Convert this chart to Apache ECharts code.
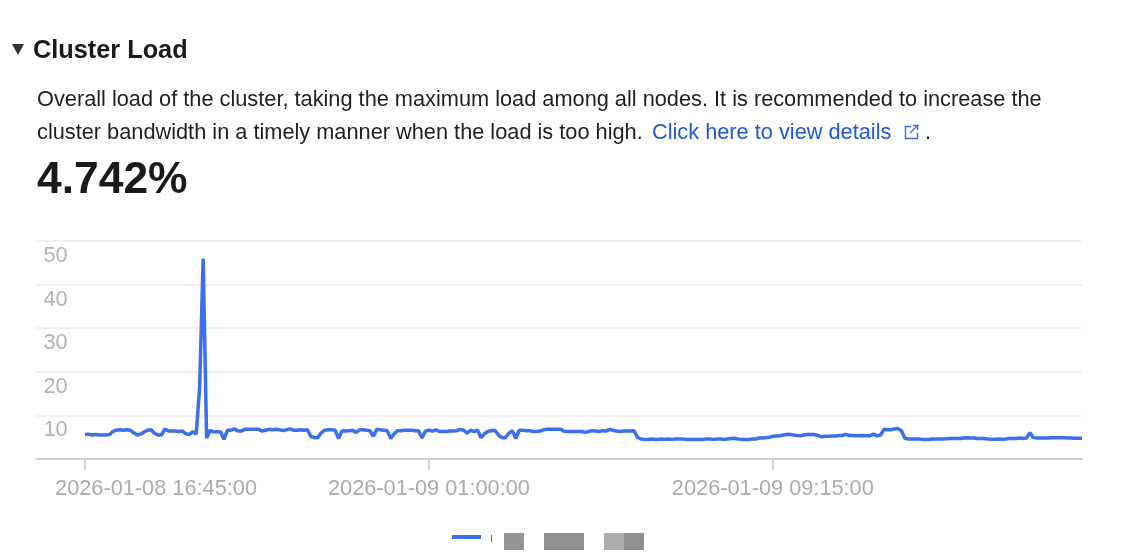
<!DOCTYPE html>
<html>
<head>
<meta charset="utf-8">
<style>
html,body{margin:0;padding:0;background:#fff;}
#chart{width:1126px;height:552px;}
</style>
<script src="https://cdn.jsdelivr.net/npm/echarts@6/dist/echarts.min.js"></script>
</head>
<body>
<div id="chart"></div>
<script>
const seriesName = 'Cluster Load';
const startLabel = '2026-01-08 16:45:00';
const tickTimes = ['2026-01-08 16:45:00', '2026-01-09 01:00:00', '2026-01-09 09:15:00'];
const yTicks = [0, 10, 20, 30, 40, 50];

const load = [
5.6,5.7,5.5,5.6,5.5,5.5,5.5,5.6,6.3,6.6,6.7,6.6,6.7,6.6,6.0,5.5,5.7,6.2,6.6,6.7,
5.9,5.5,5.5,6.9,6.4,6.4,6.4,6.3,6.4,5.8,5.6,6.3,5.7,16.5,46,4.8,6.6,6.2,6.3,6.2,
4.5,6.6,6.6,6.9,6.4,6.4,6.8,6.8,6.8,6.8,6.8,6.4,6.6,6.8,6.7,6.8,6.7,6.5,6.7,6.9,
6.6,6.6,6.7,6.6,6.7,5.2,4.9,4.9,6.0,6.6,6.7,6.7,6.6,4.7,6.5,6.4,6.5,6.6,6.1,6.7,
6.7,6.6,6.5,5.2,6.8,6.7,6.6,6.5,4.7,5.8,6.5,6.5,6.6,6.6,6.6,6.5,6.5,4.8,6.4,6.6,
6.4,6.7,6.3,6.3,6.3,6.4,6.4,6.5,6.8,6.6,5.9,6.6,6.3,6.6,4.9,5.8,6.3,6.5,6.6,5.5,
4.9,4.9,5.9,6.5,4.7,6.6,6.6,6.5,6.5,6.3,6.3,6.4,6.7,6.8,6.8,6.8,6.8,6.8,6.3,6.3,
6.3,6.3,6.3,6.3,6.1,6.3,6.5,6.4,6.3,6.5,6.4,6.8,6.6,6.4,6.3,6.4,6.4,6.4,6.5,5.0,
4.6,4.5,4.5,4.6,4.5,4.5,4.6,4.5,4.6,4.5,4.6,4.6,4.6,4.5,4.5,4.5,4.5,4.5,4.5,4.6,
4.6,4.5,4.6,4.6,4.5,4.6,4.7,4.75,4.6,4.5,4.5,4.5,4.6,4.6,4.8,4.8,4.9,5.0,5.2,5.3,
5.3,5.5,5.6,5.65,5.5,5.4,5.35,5.5,5.65,5.6,5.6,5.4,5.1,5.2,5.2,5.3,5.3,5.4,5.4,5.65,
5.4,5.4,5.35,5.35,5.4,5.35,5.35,5.7,5.3,5.5,6.8,6.7,6.7,6.9,7.0,6.5,4.74,4.6,4.6,4.6,
4.6,4.5,4.5,4.5,4.6,4.6,4.6,4.6,4.65,4.7,4.7,4.7,4.7,4.8,4.85,4.8,4.8,4.7,4.7,4.7,
4.6,4.55,4.55,4.6,4.55,4.6,4.7,4.7,4.7,4.8,4.7,4.8,6.0,4.9,4.8,4.8,4.8,4.8,4.85,4.9,
4.9,4.9,4.85,4.8,4.8,4.75,4.74,4.74
];

// The plot leaves a gap before the first sample, so the axis begins with empty slots.
const leadSlots = 14;
const stepMinutes = 5;
const pad2 = n => String(n).padStart(2, '0');
const fmt = d => `${d.getFullYear()}-${pad2(d.getMonth()+1)}-${pad2(d.getDate())} ${pad2(d.getHours())}:${pad2(d.getMinutes())}:00`;
const times = load.map((_, i) => fmt(new Date(2026, 0, 8, 16, 45 + i * stepMinutes)));
const categories = Array(leadSlots).fill('').concat(times);
const values = Array(leadSlots).fill(null).concat(load);
const isTick = (i, v) => tickTimes.includes(v);

const FONT = '"Liberation Sans", Arial, sans-serif';
const bodyFont = `21.75px ${FONT}`;
const linkColor = '#2257d6';
const textColor = '#1f1f1f';

function label(text, x, y, font, fill) {
  return { type: 'text', x, y, silent: true, style: { text, font, fill, textVerticalAlign: 'middle' } };
}
function box(x, y, w, h, fill) {
  return { type: 'rect', silent: true, shape: { x, y, width: w, height: h }, style: { fill } };
}
function stroke(points) {
  return { type: 'polyline', silent: true, shape: { points }, style: { stroke: '#3f6fdf', lineWidth: 1.5, fill: 'none' } };
}

const chart = echarts.init(document.getElementById('chart'), null, { renderer: 'canvas' });
chart.setOption({
  animation: false,
  backgroundColor: '#fff',
  grid: { left: 36.4, right: 44, top: 241, bottom: 93, containLabel: false },
  legend: {
    left: 447, top: 527, icon: 'rect', itemWidth: 29, itemHeight: 4, itemGap: 0,
    data: [seriesName], selectedMode: false,
    formatter: () => ' ', textStyle: { fontSize: 10 }
  },
  xAxis: {
    type: 'category',
    data: categories,
    boundaryGap: false,
    axisLine: { lineStyle: { color: '#d2d2d2', width: 2 } },
    axisTick: { show: true, length: 11, interval: (i, v) => isTick(i, v), lineStyle: { color: '#d2d2d2', width: 2 } },
    axisLabel: {
      interval: (i, v) => isTick(i, v),
      hideOverlap: false,
      margin: 19,
      color: '#ababab',
      fontFamily: FONT,
      fontSize: 21.75,
      formatter: v => v === startLabel ? `{first|${v}}` : v,
      rich: { first: { color: '#ababab', fontFamily: FONT, fontSize: 21.75, padding: [0, 0, 0, 142] } }
    },
    splitLine: { show: false }
  },
  yAxis: {
    type: 'value',
    min: yTicks[0],
    max: yTicks[yTicks.length - 1],
    interval: 10,
    axisLine: { show: false },
    axisTick: { show: false },
    splitLine: { lineStyle: { color: '#efefef', width: 2 } },
    axisLabel: {
      inside: true,
      showMinLabel: false,
      margin: 7,
      verticalAlign: 'top',
      padding: [4, 0, 0, 0],
      color: '#b3b3b3',
      fontFamily: FONT,
      fontSize: 21.75
    }
  },
  series: [{
    name: seriesName,
    type: 'line',
    data: values,
    showSymbol: false,
    smooth: false,
    connectNulls: false,
    lineStyle: { color: '#3b6ff0', width: 3.5 },
    itemStyle: { color: '#3b6ff0' }
  }],
  graphic: [
    { type: 'polygon', silent: true, shape: { points: [[12, 44], [24, 44], [18, 55]] }, style: { fill: '#333' } },
    label('Cluster Load', 33, 51, `bold 25.3px ${FONT}`, '#1a1a1a'),
    label('Overall load of the cluster, taking the maximum load among all nodes. It is recommended to increase the', 37, 100, bodyFont, textColor),
    label('cluster bandwidth in a timely manner when the load is too high.', 37, 133, bodyFont, textColor),
    label('Click here to view details', 652, 133, bodyFont, linkColor),
    label('.', 925, 133, bodyFont, textColor),
    stroke([[911, 126.5], [905.5, 126.5], [905.5, 138.5], [917.5, 138.5], [917.5, 133]]),
    stroke([[910, 133], [918, 125]]),
    stroke([[913, 125.5], [917.5, 125.5], [917.5, 130]]),
    label('4.742%', 37, 181, `bold 44.4px ${FONT}`, '#1a1a1a'),
    box(491, 535, 1, 7, '#666'),
    box(504, 533, 20, 17, '#949494'),
    box(544, 533, 40, 17, '#909090'),
    box(604, 533, 20, 17, '#adadad'),
    box(624, 533, 20, 17, '#919191')
  ]
});
</script>
</body>
</html>
